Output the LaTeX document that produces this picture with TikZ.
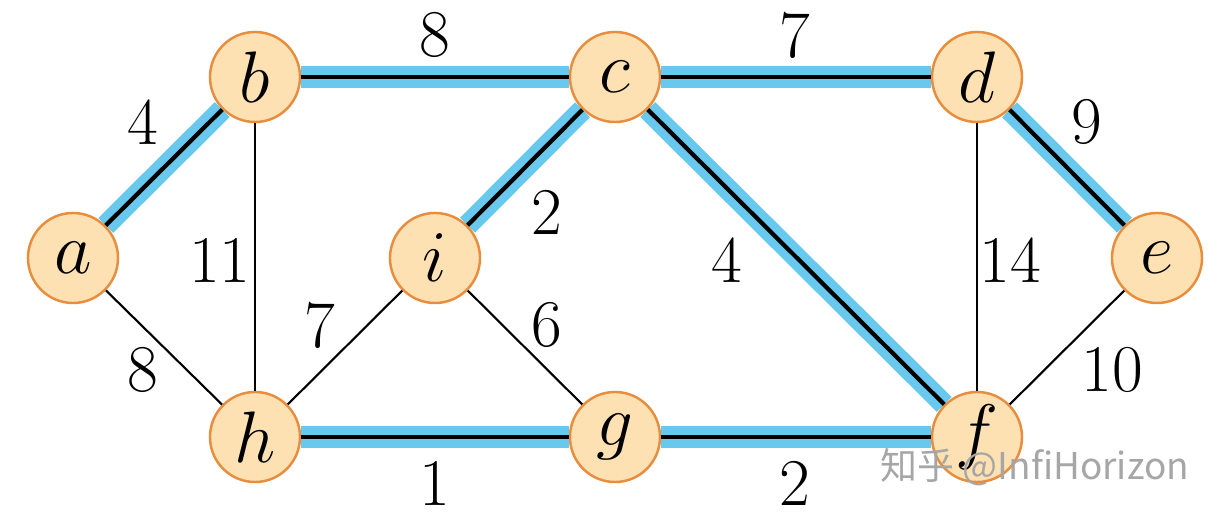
\documentclass[tikz,border=0pt]{standalone}
\usepackage{fontspec}
\newfontfamily\cjk{Noto Sans CJK SC}
\usepackage{xcolor}
\usepackage{tikz}

\definecolor{vfill}{RGB}{253,225,178}
\definecolor{vline}{RGB}{232,140,62}
\definecolor{mstblue}{RGB}{104,200,238}

\tikzset{
  vert/.style={circle,draw=vline,fill=vfill,line width=0.7pt,minimum size=0.9cm,inner sep=0pt,font=\fontsize{21}{21}\selectfont,execute at begin node=$,execute at end node=$},
  edge/.style={black,line width=0.6pt},
  mst/.style={mstblue,line width=6pt,postaction={draw=black,line width=1.2pt}},
  wt/.style={font=\rmfamily\fontsize{19}{19}\selectfont}
}

\begin{document}
\begin{tikzpicture}[x=0.01cm,y=-0.01cm]

\useasboundingbox (0,0) rectangle (1217,516);

% Define the vertices
\node[vert] (a) at (73,258) {a};
\node[vert] (b) at (255,77) {b};
\node[vert] (c) at (615,77) {c};
\node[vert] (d) at (977,77) {d};
\node[vert] (e) at (1157,258) {e};
\node[vert] (i) at (435,258) {i};
\node[vert] (h) at (255,437) {h};
\node[vert] (g) at (615,437) {g};
\node[vert] (f) at (977,437) {f};

% Draw the plain edges
\draw[edge] (b) -- (h);
\draw[edge] (a) -- (h);
\draw[edge] (h) -- (i);
\draw[edge] (i) -- (g);
\draw[edge] (d) -- (f);
\draw[edge] (e) -- (f);

% Draw the tree edges
\draw[mst] (a) -- (b);
\draw[mst] (b) -- (c);
\draw[mst] (c) -- (d);
\draw[mst] (d) -- (e);
\draw[mst] (i) -- (c);
\draw[mst] (c) -- (f);
\draw[mst] (h) -- (g);
\draw[mst] (g) -- (f);

% Draw the weights
\node[wt] (wab) at (143,122) {4};
\node[wt] (wbc) at (435,35) {8};
\node[wt] (wcd) at (795,35) {7};
\node[wt] (wde) at (1087,122) {9};
\node[wt] (wbh) at (220,260) {11};
\node[wt] (wic) at (547,212) {2};
\node[wt] (wcf) at (727,260) {4};
\node[wt] (wdf) at (1010,260) {14};
\node[wt] (wah) at (143,370) {8};
\node[wt] (whi) at (320,325) {7};
\node[wt] (wig) at (547,325) {6};
\node[wt] (wef) at (1112,370) {10};
\node[wt] (whg) at (435,483) {1};
\node[wt] (wgf) at (795,483) {2};

% Watermark
\node[text=black!35,font=\cjk\fontsize{10.5}{10.5}\selectfont] (mark) at (1035,467) {知乎 @InfiHorizon};

\end{tikzpicture}
\end{document}
